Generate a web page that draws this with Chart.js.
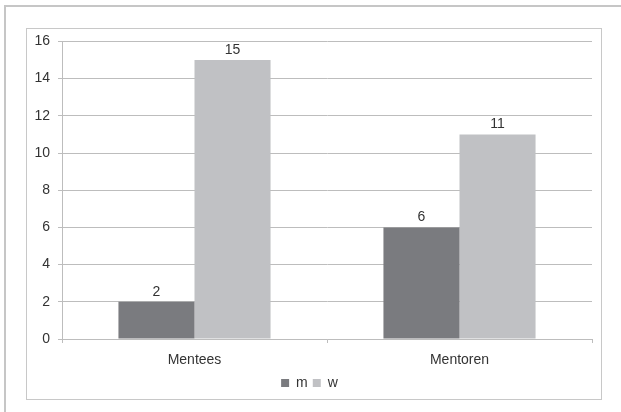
<!DOCTYPE html>
<html>
<head>
<meta charset="utf-8">
<script src="https://cdn.jsdelivr.net/npm/chart.js@4"></script>
<style>
  html, body { margin: 0; padding: 0; background: #fff; }
  body { width: 621px; height: 412px; position: relative; overflow: hidden; }
  #frame { position: absolute; left: 4px; top: 5px; width: 640px; height: 420px;
           border-top: 2px solid #c6c6c6; border-left: 2px solid #c6c6c6; }
  #box { position: absolute; left: 26px; top: 28px; width: 574px; height: 370px;
         border: 1px solid #c8c8c8; }
  #wrap { position: absolute; left: 0; top: -4px; width: 574px; height: 378px; }
</style>
</head>
<body>
<div id="frame"></div>
<div id="box"><div id="wrap"><canvas id="chart"></canvas></div></div>
<script>
// --- DATOS ---
const categorias = ['Mentees', 'Mentoren'];
const valoresM = [2, 6];
const valoresW = [15, 11];
const ticksY = [0, 2, 4, 6, 8, 10, 12, 14, 16];

const colorTexto = '#333333';
const colorRejilla = '#bdbdbd';

// Etiquetas encima de cada barra
const etiquetasBarras = {
    id: 'etiquetasBarras',
    afterDatasetsDraw(chart) {
        const ctx = chart.ctx;
        ctx.save();
        ctx.font = '14px "Liberation Sans", Arial, sans-serif';
        ctx.fillStyle = colorTexto;
        ctx.textAlign = 'center';
        ctx.textBaseline = 'bottom';
        chart.data.datasets.forEach((ds, i) => {
            chart.getDatasetMeta(i).data.forEach((bar, j) => {
                ctx.fillText(ds.data[j], bar.x, bar.y - 3);
            });
        });
        ctx.restore();
    }
};

Chart.defaults.font.family = '"Liberation Sans", Arial, sans-serif';
Chart.defaults.font.size = 14;
Chart.defaults.color = colorTexto;

new Chart(document.getElementById('chart'), {
    type: 'bar',
    data: {
        labels: categorias,
        datasets: [
            { label: 'm', data: valoresM, backgroundColor: '#7a7b7f' },
            { label: 'w', data: valoresW, backgroundColor: '#c0c1c4' }
        ]
    },
    options: {
        responsive: true,
        maintainAspectRatio: false,
        animation: false,
        categoryPercentage: 0.574,
        barPercentage: 1,
        layout: { padding: { top: 1, right: 9, left: 0, bottom: 3 } },
        plugins: {
            tooltip: { enabled: false },
            legend: {
                position: 'bottom',
                labels: { boxWidth: 8, boxHeight: 8, padding: 5, color: colorTexto }
            }
        },
        scales: {
            x: {
                offset: true,
                grid: { offset: true, drawOnChartArea: false, tickLength: 4, color: colorRejilla },
                border: { color: colorRejilla },
                ticks: { padding: 9 },
                afterFit: (s) => { s.height = 32; }
            },
            y: {
                min: 0,
                max: 16,
                afterBuildTicks: (s) => { s.ticks = ticksY.map(v => ({ value: v })); },
                grid: { color: colorRejilla, tickLength: 4 },
                border: { color: colorRejilla },
                ticks: { padding: 8 },
                afterFit: (s) => { s.width = 35; }
            }
        }
    },
    plugins: [etiquetasBarras]
});
</script>
</body>
</html>
